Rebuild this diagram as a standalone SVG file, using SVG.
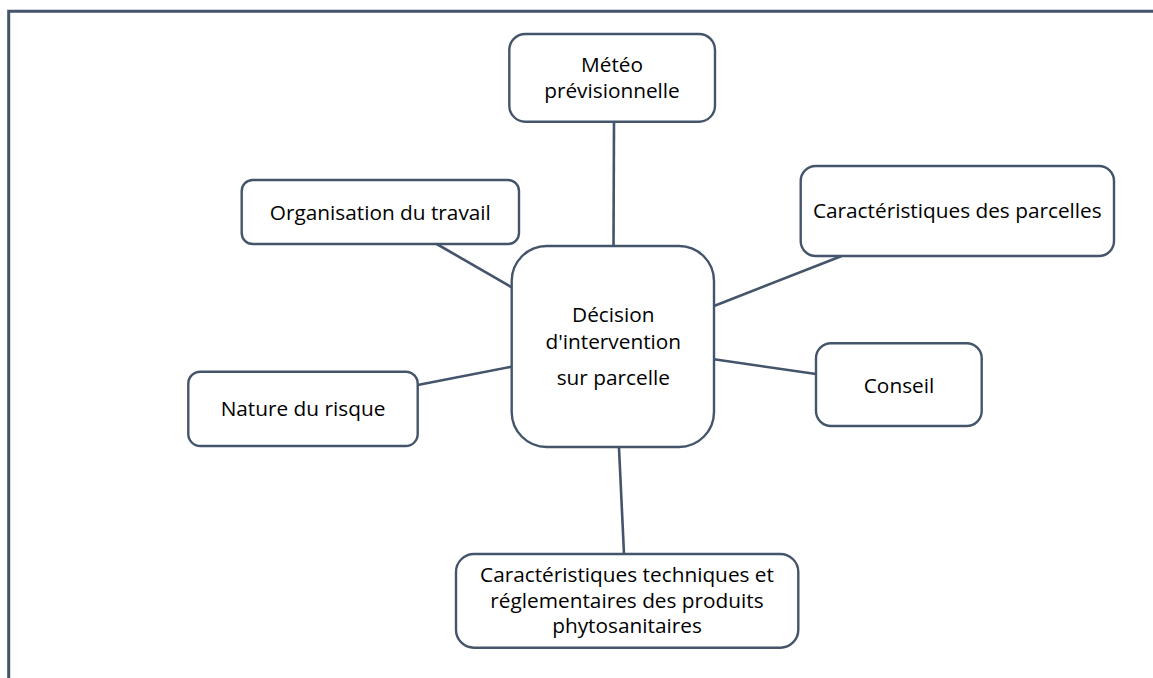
<svg xmlns="http://www.w3.org/2000/svg" width="1153" height="678" viewBox="0 0 1153 678">
<style>
.frame{fill:none;stroke:#44546A;stroke-width:3}
.box{fill:#FFFFFF;stroke:#44546A;stroke-width:2.4}
.link{fill:none;stroke:#44546A;stroke-width:2.6}
text{font-family:"Open Sans","Noto Sans","Liberation Sans",sans-serif;font-size:20.8px;fill:#000000;text-anchor:middle}
</style>
<rect width="1153" height="678" fill="#FFFFFF"/>
<path class="frame" d="M8.7,678 V11.3 H1153"/>
<g id="connectors">
<line class="link" x1="614" y1="122" x2="613.5" y2="246"/>
<line class="link" x1="436.7" y1="244" x2="511.7" y2="287.3"/>
<line class="link" x1="417.7" y1="385" x2="511.7" y2="366.7"/>
<line class="link" x1="841.7" y1="256" x2="714" y2="306"/>
<line class="link" x1="714" y1="359.3" x2="816" y2="374"/>
<line class="link" x1="619" y1="448" x2="624" y2="554"/>
</g>
<g id="center">
<rect class="box" x="511.7" y="246" width="202.3" height="201" rx="35" ry="35"/>
<text x="613.3" y="321.7">Décision</text>
<text x="613.3" y="349">d'intervention</text>
<text x="613.3" y="385">sur parcelle</text>
</g>
<g id="meteo">
<rect class="box" x="509.3" y="34" width="205.7" height="87.7" rx="16" ry="16"/>
<text x="612" y="71.7">Météo</text>
<text x="612" y="98.3">prévisionnelle</text>
</g>
<g id="organisation">
<rect class="box" x="241.7" y="180" width="277.3" height="64" rx="11" ry="11"/>
<text x="380.3" y="220">Organisation du travail</text>
</g>
<g id="nature">
<rect class="box" x="188.3" y="371.7" width="229.4" height="74.3" rx="12" ry="12"/>
<text x="303" y="416">Nature du risque</text>
</g>
<g id="parcelles">
<rect class="box" x="800.7" y="166" width="313.3" height="90" rx="15" ry="15"/>
<text x="957.3" y="218.3">Caractéristiques des parcelles</text>
</g>
<g id="conseil">
<rect class="box" x="816" y="343.3" width="165.7" height="82.7" rx="15" ry="15"/>
<text x="899" y="392.7">Conseil</text>
</g>
<g id="produits">
<rect class="box" x="456" y="554" width="342.3" height="93.7" rx="18" ry="18"/>
<text x="627" y="581.7">Caractéristiques techniques et</text>
<text x="627" y="608">réglementaires des produits</text>
<text x="627" y="633.3">phytosanitaires</text>
</g>
</svg>
